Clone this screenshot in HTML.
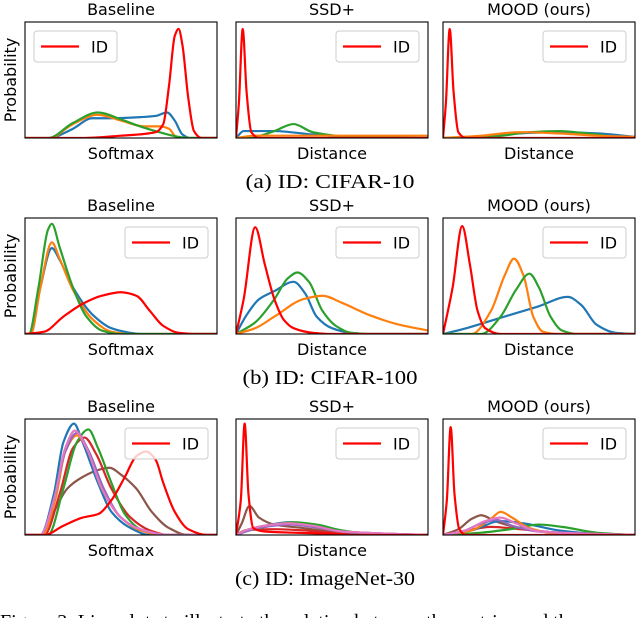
<!DOCTYPE html>
<html><head><meta charset="utf-8"><style>
body{margin:0;background:#fff;width:640px;height:618px;overflow:hidden}
svg{display:block}
</style></head><body>
<svg id="fig" width="640" height="618" viewBox="0 0 640 618" font-family="'DejaVu Sans','Liberation Sans',sans-serif"></svg>
<script>
const panelTitles = ["Baseline","SSD+","MOOD (ours)"];
const panelXLabels = ["Softmax","Distance","Distance"];
const rowCaptions = ["(a) ID: CIFAR-10","(b) ID: CIFAR-100","(c) ID: ImageNet-30"];

const r1Baseline = {
 blue:[[0.15,0],[0.25,0.08],[0.35,0.17],[0.45,0.17],[0.6,0.18],[0.68,0.19],[0.74,0.22],[0.78,0.15],[0.82,0.03],[0.86,0],[1,0]],
 orange:[[0.15,0],[0.25,0.12],[0.38,0.2],[0.5,0.15],[0.62,0.1],[0.7,0.1],[0.75,0.08],[0.78,0.02],[0.8,0],[1,0]],
 green:[[0,0],[0.12,0],[0.25,0.13],[0.38,0.22],[0.5,0.16],[0.6,0.1],[0.7,0.05],[0.8,0.01],[0.85,0],[1,0]],
 id:[[0,0],[0.3,0],[0.5,0.02],[0.68,0.05],[0.72,0.12],[0.75,0.45],[0.78,0.88],[0.8,0.94],[0.82,0.8],[0.85,0.35],[0.88,0.06],[0.92,0],[1,0]]
};
const r1Ssd = {
 blue:[[0,0],[0.04,0.06],[0.2,0.06],[0.4,0.03],[0.6,0.01],[1,0]],
 green:[[0,0],[0.1,0.01],[0.2,0.06],[0.3,0.12],[0.4,0.05],[0.6,0.01],[1,0]],
 orange:[[0,0],[0.1,0.02],[0.5,0.02],[1,0.02]],
 id:[[0,0],[0.015,0.3],[0.035,0.94],[0.055,0.4],[0.08,0.05],[0.12,0],[1,0]]
};
const r1Mood = {
 blue:[[0,0],[0.2,0.01],[0.4,0.04],[0.6,0.05],[0.8,0.04],[1,0.01]],
 green:[[0,0],[0.25,0.01],[0.45,0.05],[0.6,0.06],[0.75,0.04],[0.9,0.01],[1,0]],
 orange:[[0,0],[0.2,0.02],[0.4,0.05],[0.6,0.04],[0.8,0.02],[1,0.01]],
 id:[[0,0],[0.015,0.3],[0.035,0.94],[0.055,0.4],[0.08,0.05],[0.12,0],[1,0]]
};
const r2Baseline = {
 blue:[[0,0],[0.03,0],[0.08,0.4],[0.14,0.74],[0.18,0.64],[0.25,0.4],[0.35,0.17],[0.45,0.05],[0.55,0.01],[0.6,0],[1,0]],
 orange:[[0,0],[0.03,0],[0.08,0.4],[0.14,0.79],[0.18,0.65],[0.25,0.38],[0.35,0.13],[0.45,0.02],[0.55,0],[1,0]],
 green:[[0,0],[0.02,0],[0.07,0.4],[0.12,0.9],[0.14,0.95],[0.18,0.75],[0.25,0.4],[0.32,0.15],[0.4,0.03],[0.5,0],[1,0]],
 id:[[0,0],[0.1,0.02],[0.2,0.15],[0.3,0.26],[0.4,0.33],[0.5,0.36],[0.58,0.33],[0.65,0.2],[0.72,0.07],[0.8,0.01],[0.9,0],[1,0]]
};
const r2Ssd = {
 blue:[[0,0],[0.05,0.15],[0.12,0.3],[0.2,0.37],[0.3,0.45],[0.36,0.35],[0.42,0.15],[0.5,0.05],[0.6,0.01],[0.7,0],[1,0]],
 green:[[0,0],[0.1,0.1],[0.2,0.3],[0.27,0.48],[0.32,0.53],[0.38,0.45],[0.45,0.2],[0.52,0.07],[0.6,0.01],[0.7,0],[1,0]],
 orange:[[0,0],[0.1,0.05],[0.2,0.15],[0.35,0.3],[0.45,0.33],[0.55,0.27],[0.7,0.16],[0.85,0.08],[1,0.03]],
 id:[[0,0],[0.04,0.3],[0.1,0.92],[0.15,0.6],[0.2,0.3],[0.25,0.12],[0.3,0.05],[0.4,0.01],[0.5,0],[1,0]]
};
const r2Mood = {
 blue:[[0,0],[0.1,0.04],[0.3,0.14],[0.5,0.24],[0.65,0.32],[0.72,0.25],[0.8,0.08],[0.9,0.01],[1,0]],
 orange:[[0,0],[0.15,0],[0.25,0.2],[0.32,0.5],[0.37,0.65],[0.42,0.5],[0.47,0.15],[0.52,0.02],[0.6,0],[1,0]],
 green:[[0,0],[0.2,0],[0.3,0.15],[0.38,0.38],[0.45,0.52],[0.5,0.4],[0.56,0.15],[0.62,0.03],[0.7,0],[1,0]],
 id:[[0,0],[0.05,0.4],[0.1,0.93],[0.14,0.6],[0.18,0.2],[0.22,0.05],[0.3,0],[1,0]]
};
const r3Baseline = {
 brown:[[0,0],[0.08,0],[0.15,0.2],[0.22,0.4],[0.3,0.5],[0.38,0.56],[0.44,0.58],[0.5,0.52],[0.58,0.4],[0.66,0.2],[0.75,0.06],[0.85,0],[1,0]],
 red:[[0,0],[0.1,0],[0.18,0.35],[0.25,0.75],[0.31,0.84],[0.37,0.7],[0.45,0.4],[0.55,0.15],[0.65,0.04],[0.75,0],[1,0]],
 green:[[0,0],[0.12,0],[0.2,0.4],[0.27,0.8],[0.33,0.91],[0.38,0.75],[0.45,0.45],[0.52,0.18],[0.6,0.05],[0.7,0],[1,0]],
 blue:[[0,0],[0.08,0],[0.15,0.35],[0.2,0.8],[0.255,0.96],[0.3,0.8],[0.38,0.45],[0.45,0.2],[0.55,0.06],[0.65,0],[1,0]],
 orange:[[0,0],[0.09,0],[0.16,0.32],[0.21,0.72],[0.27,0.86],[0.33,0.72],[0.4,0.4],[0.5,0.15],[0.6,0.04],[0.72,0],[1,0]],
 purple:[[0,0],[0.08,0],[0.15,0.3],[0.21,0.72],[0.27,0.88],[0.33,0.73],[0.41,0.4],[0.5,0.15],[0.6,0.05],[0.75,0],[1,0]],
 pink:[[0,0],[0.08,0],[0.15,0.3],[0.21,0.75],[0.26,0.9],[0.32,0.75],[0.4,0.4],[0.5,0.15],[0.6,0.05],[0.75,0],[1,0]],
 id:[[0,0],[0.1,0],[0.2,0.08],[0.3,0.15],[0.38,0.18],[0.45,0.3],[0.52,0.5],[0.58,0.68],[0.63,0.72],[0.68,0.65],[0.72,0.45],[0.78,0.2],[0.85,0.05],[0.95,0],[1,0]]
};
const r3Ssd = {
 brown:[[0,0],[0.03,0.1],[0.07,0.25],[0.12,0.15],[0.2,0.09],[0.35,0.06],[0.5,0.03],[0.7,0.01],[1,0]],
 red:[[0,0],[0.05,0.04],[0.2,0.05],[0.35,0.04],[0.5,0.02],[0.7,0.01],[1,0]],
 blue:[[0,0],[0.05,0.04],[0.15,0.08],[0.28,0.11],[0.4,0.08],[0.55,0.03],[0.7,0.01],[1,0]],
 green:[[0,0],[0.05,0.03],[0.15,0.07],[0.3,0.11],[0.42,0.09],[0.55,0.04],[0.7,0.01],[1,0]],
 orange:[[0,0],[0.05,0.04],[0.15,0.08],[0.28,0.1],[0.4,0.07],[0.55,0.03],[1,0]],
 purple:[[0,0],[0.05,0.03],[0.15,0.07],[0.28,0.09],[0.4,0.07],[0.55,0.03],[1,0]],
 pink:[[0,0],[0.05,0.04],[0.15,0.08],[0.28,0.1],[0.4,0.08],[0.55,0.03],[1,0]],
 id:[[0,0],[0.025,0.3],[0.045,0.96],[0.065,0.35],[0.09,0.06],[0.15,0.03],[0.3,0.02],[0.5,0.01],[0.6,0],[1,0]]
};
const r3Mood = {
 brown:[[0,0],[0.08,0.05],[0.15,0.14],[0.2,0.17],[0.27,0.12],[0.4,0.06],[0.6,0.02],[1,0]],
 red:[[0,0],[0.1,0.03],[0.25,0.07],[0.4,0.05],[0.6,0.02],[1,0]],
 blue:[[0,0],[0.15,0.04],[0.3,0.12],[0.42,0.1],[0.6,0.04],[0.8,0.01],[1,0]],
 green:[[0,0],[0.2,0.02],[0.35,0.05],[0.5,0.09],[0.62,0.07],[0.8,0.02],[1,0]],
 orange:[[0,0],[0.15,0.04],[0.25,0.14],[0.3,0.2],[0.36,0.15],[0.45,0.06],[0.6,0.01],[1,0]],
 purple:[[0,0],[0.1,0.03],[0.2,0.1],[0.28,0.13],[0.36,0.08],[0.5,0.03],[1,0]],
 pink:[[0,0],[0.12,0.04],[0.22,0.12],[0.3,0.15],[0.38,0.1],[0.5,0.03],[1,0]],
 id:[[0,0],[0.02,0.3],[0.04,0.93],[0.06,0.35],[0.085,0.05],[0.12,0],[1,0]]
};
const grid = [[r1Baseline,r1Ssd,r1Mood],[r2Baseline,r2Ssd,r2Mood],[r3Baseline,r3Ssd,r3Mood]];

const colors = {blue:"#1f77b4",orange:"#ff7f0e",green:"#2ca02c",red:"#d62728",purple:"#9467bd",brown:"#8c564b",pink:"#e377c2",id:"#ff0000"};
const colX = [25,236,443], boxW = 192;
const rowY = [22,218,419], boxH = 116;
const legendLeft = [[true,false,false],[false,false,false],[false,false,false]];
const capLen = [169,175,180], capCx = [330,330,325];
const NS = "http://www.w3.org/2000/svg";
const svg = document.getElementById('fig');
function mk(tag, attrs, parent){const e=document.createElementNS(NS,tag);for(const k in attrs)e.setAttribute(k,attrs[k]);(parent||svg).appendChild(e);return e;}

function monoPath(pts){
  const n=pts.length, dx=[], m=[], t=[];
  for(let i=0;i<n-1;i++){dx.push(pts[i+1][0]-pts[i][0]);m.push((pts[i+1][1]-pts[i][1])/dx[i]);}
  t[0]=m[0]; t[n-1]=m[n-2];
  for(let i=1;i<n-1;i++){ if(m[i-1]*m[i]<=0) t[i]=0; else { t[i]=3*(dx[i-1]+dx[i])/((2*dx[i]+dx[i-1])/m[i-1]+(dx[i]+2*dx[i-1])/m[i]); } }
  let d="M"+pts[0][0].toFixed(2)+","+pts[0][1].toFixed(2);
  for(let i=0;i<n-1;i++){const h=dx[i]/3;
    d+=" C"+(pts[i][0]+h).toFixed(2)+","+(pts[i][1]+t[i]*h).toFixed(2)+" "+(pts[i+1][0]-h).toFixed(2)+","+(pts[i+1][1]-t[i+1]*h).toFixed(2)+" "+pts[i+1][0].toFixed(2)+","+pts[i+1][1].toFixed(2);}
  return d;
}

for(let r=0;r<3;r++){
  for(let c=0;c<3;c++){
    const x0=colX[c], y0=rowY[r];
    const sx=v=>x0+v*boxW, sy=v=>y0+boxH-v*boxH;
    const g=mk('g',{});
    
    
    mk('defs',{},g).innerHTML='<clipPath id="cp'+r+c+'"><rect x="'+x0+'" y="'+y0+'" width="'+boxW+'" height="'+boxH+'"/></clipPath>';
    const cg=mk('g',{'clip-path':'url(#cp'+r+c+')'},g);
    const data=grid[r][c];
    const keys=Object.keys(data).filter(k=>k!=='id').concat(['id']);
    keys.forEach(k=>{
      const pts=data[k].map(p=>[sx(p[0]),sy(p[1])]);
      const p=mk('path',{d:monoPath(pts),fill:'none',stroke:colors[k],'stroke-width':2.2,'stroke-linejoin':'round'},cg);
      
      
    });
    const fr=mk('rect',{x:x0,y:y0,width:boxW,height:boxH,fill:'none',stroke:'#000','stroke-width':1.1},g);
    
    
    const tt=mk('text',{x:x0+boxW/2,y:y0-7,'text-anchor':'middle','font-size':16},g);
    tt.textContent=panelTitles[c];
    
    
    const xl=mk('text',{x:x0+boxW/2,y:y0+boxH+21,'text-anchor':'middle','font-size':16},g);
    xl.textContent=panelXLabels[c];
    
    
    const lw=83, lh=31;
    const lx=legendLeft[r][c]? x0+9 : x0+boxW-lw-9, ly=y0+9;
    const lg=mk('g',{},g);
    
    
    mk('rect',{x:lx,y:ly,width:lw,height:lh,rx:3,fill:'#fff','fill-opacity':0.8,stroke:'#ccc','stroke-width':1},lg);
    mk('line',{x1:lx+7,x2:lx+45,y1:ly+lh/2,y2:ly+lh/2,stroke:'#ff0000','stroke-width':2.2},lg);
    const lt=mk('text',{x:lx+57,y:ly+lh/2+6,'font-size':16},lg);
    lt.textContent='ID';
    
    
    if(c===0){
      const yl=mk('text',{x:0,y:0,'text-anchor':'middle','font-size':16,transform:'translate('+(x0-9)+','+(y0+boxH/2)+') rotate(-90)'},g);
      yl.textContent='Probability';
      
      
    }
  }
  const cap=mk('text',{x:capCx[r]-capLen[r]/2,y:rowY[r]+boxH+50,'font-size':20,'font-family':"'Liberation Serif',serif",textLength:capLen[r],lengthAdjust:'spacingAndGlyphs'});
  cap.textContent=rowCaptions[r];
  
  
}
const fc=mk('text',{x:0,y:628,'font-size':20,'font-family':"'Liberation Serif',serif"});
fc.textContent='Figure 3: Live plots to illustrate the relation between the metrics and the';


</script>
</body></html>
